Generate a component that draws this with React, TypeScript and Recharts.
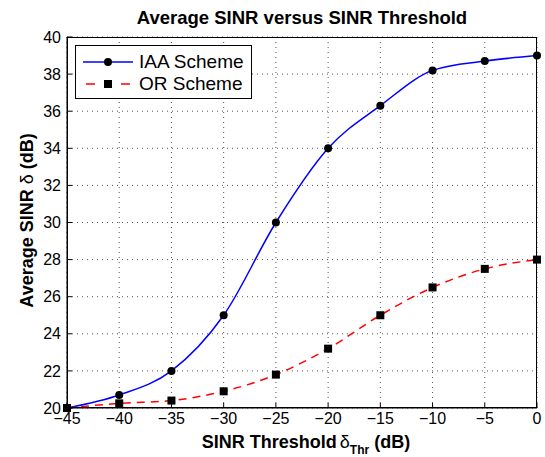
import React from "react";
import { LineChart, Line, XAxis, YAxis, CartesianGrid } from "recharts";

const thresholds = [-45, -40, -35, -30, -25, -20, -15, -10, -5, 0];
const iaaValues = [20, 20.7, 22, 25, 30, 34, 36.3, 38.2, 38.7, 39];
const orValues = [20, 20.25, 20.4, 20.9, 21.8, 23.2, 25, 26.5, 27.5, 28];
const xTicks = [-45, -40, -35, -30, -25, -20, -15, -10, -5, 0];
const yTicks = [20, 22, 24, 26, 28, 30, 32, 34, 36, 38, 40];

const data = thresholds.map((t, i) => ({ t, iaa: iaaValues[i], or: orValues[i] }));

const FONT = "'Liberation Sans', Arial, Helvetica, sans-serif";

const Square = (props: any) => {
  const { cx, cy } = props;
  if (cx == null || cy == null) return null;
  return <rect x={cx - 4} y={cy - 4} width={8} height={8} fill="#000" />;
};

const Dot = (props: any) => {
  const { cx, cy } = props;
  if (cx == null || cy == null) return null;
  return <circle cx={cx} cy={cy} r={4} fill="#000" />;
};

const LegendBox = () => (
  <div
    style={{
      position: "absolute",
      left: 75,
      top: 45,
      width: 177,
      height: 54,
      border: "1px solid #000",
      background: "#fff",
      boxSizing: "border-box",
      fontFamily: FONT,
      fontSize: 19,
      color: "#000",
    }}
  >
    <div style={{ position: "absolute", left: 7, top: 5, height: 22, display: "flex", alignItems: "center" }}>
      <svg width={50} height={20}>
        <line x1={0} y1={10} x2={50} y2={10} stroke="#0000ff" strokeWidth={1.5} />
        <circle cx={25} cy={10} r={4} fill="#000" />
      </svg>
      <span style={{ marginLeft: 6, lineHeight: "22px" }}>IAA Scheme</span>
    </div>
    <div style={{ position: "absolute", left: 7, top: 27, height: 22, display: "flex", alignItems: "center" }}>
      <svg width={50} height={20}>
        <line x1={3} y1={10} x2={12} y2={10} stroke="#ff0000" strokeWidth={1.5} />
        <line x1={38} y1={10} x2={47} y2={10} stroke="#ff0000" strokeWidth={1.5} />
        <rect x={21} y={6} width={8} height={8} fill="#000" />
      </svg>
      <span style={{ marginLeft: 6, lineHeight: "22px" }}>OR Scheme</span>
    </div>
  </div>
);

const XLabel = (props: any) => {
  const vb = props.viewBox || {};
  const cx = vb.x + vb.width / 2;
  return (
    <text x={cx + 4} y={448} textAnchor="middle" fontFamily={FONT} fontSize={18} fontWeight="bold" fill="#000">
      SINR Threshold
      <tspan fontWeight="normal" dx={3}>δ</tspan>
      <tspan fontSize={12} dy={6}>Thr</tspan>
      <tspan dy={-6} dx={5}>(dB)</tspan>
    </text>
  );
};

const YLabel = (props: any) => {
  const vb = props.viewBox || {};
  const cy = vb.y + vb.height / 2 - 2;
  const x = 33;
  return (
    <text
      x={x}
      y={cy}
      textAnchor="middle"
      transform={`rotate(-90 ${x} ${cy})`}
      fontFamily={FONT}
      fontSize={18}
      fontWeight="bold"
      fill="#000"
    >
      Average SINR <tspan fontWeight="normal">δ</tspan> (dB)
    </text>
  );
};

export default function App() {
  return (
    <div style={{ position: "absolute", left: 0, top: 0, width: 545, height: 457, background: "#fff" }}>
      <div
        style={{
          position: "absolute",
          left: 67,
          width: 470,
          top: 7,
          textAlign: "center",
          fontFamily: FONT,
          fontWeight: "bold",
          fontSize: 18.5,
          lineHeight: "22px",
          color: "#000",
        }}
      >
        Average SINR versus SINR Threshold
      </div>
      <LineChart
        width={545}
        height={457}
        data={data}
        margin={{ top: 37, right: 8, bottom: 19, left: 27 }}
      >
        <CartesianGrid stroke="#555" strokeDasharray="1 4" strokeWidth={1} />
        <XAxis
          dataKey="t"
          type="number"
          domain={[-45, 0]}
          ticks={xTicks}
          height={30}
          stroke="#000"
          tickSize={-5}
          tickMargin={10}
          tick={{ fill: "#000", fontFamily: FONT, fontSize: 16 }}
          tickFormatter={(v: number) => (v < 0 ? `\u2212${Math.abs(v)}` : `${v}`)}
          label={<XLabel />}
        />
        <XAxis xAxisId="top" orientation="top" dataKey="t" type="number" domain={[-45, 0]} ticks={xTicks} height={0} stroke="#000" tickSize={-5} tick={false} />
        <YAxis
          type="number"
          domain={[20, 40]}
          ticks={yTicks}
          width={40}
          stroke="#000"
          tickSize={-5}
          tickMargin={11}
          tick={{ fill: "#000", fontFamily: FONT, fontSize: 16 }}
          label={<YLabel />}
        />
        <YAxis yAxisId="right" orientation="right" type="number" domain={[20, 40]} ticks={yTicks} width={0} stroke="#000" tickSize={-5} tick={false} />
        <Line
          type="monotone"
          dataKey="iaa"
          stroke="#0000ff"
          strokeWidth={1.5}
          dot={<Dot />}
          isAnimationActive={false}
        />
        <Line
          type="monotone"
          dataKey="or"
          stroke="#ff0000"
          strokeWidth={1.5}
          strokeDasharray="8 6"
          dot={<Square />}
          isAnimationActive={false}
        />
      </LineChart>
      <div
        style={{
          position: "absolute",
          left: 67,
          top: 37,
          width: 470,
          height: 371,
          border: "1px solid #000",
          boxSizing: "border-box",
          pointerEvents: "none",
        }}
      />
      <LegendBox />
    </div>
  );
}
